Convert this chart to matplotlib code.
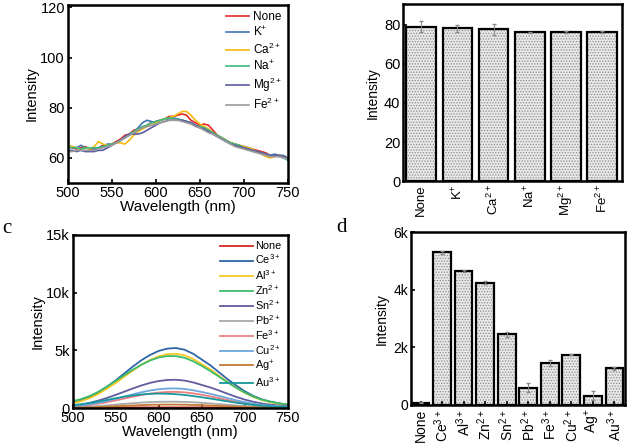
import numpy as np
import matplotlib.pyplot as plt

plt.rcParams['font.family'] = ['Liberation Sans', 'DejaVu Sans']
plt.rcParams['mathtext.fontset'] = 'custom'
plt.rcParams['mathtext.rm'] = 'Liberation Sans'
plt.rcParams['hatch.linewidth'] = 0.6

# panel a: spectra with non-responsive ions
wl_a = np.arange(500, 755, 5)
a_none = [64.5, 64, 63.5, 64, 64.5, 63.5, 63.5, 64, 65, 65, 65.5, 66.5, 67.5, 69, 69.5, 71, 71.5, 72, 73, 74, 74.5, 75, 75.5, 76.5, 76.5, 77, 77.5, 77, 75, 74, 73, 73.5, 73, 71, 69, 68, 67, 66, 65.5, 65, 64.5, 64, 63.5, 63, 62.5, 62, 61, 61, 61, 60.5, 59.5]
a_k = [64, 64.5, 64, 65, 64, 64, 63.5, 64, 64.5, 65.5, 65.5, 66, 67, 68, 69, 70, 72, 74, 75, 74.5, 74, 75, 75.5, 75.5, 76, 75.5, 75, 74.5, 74, 73, 72, 71.5, 70.5, 69.5, 68.5, 67.5, 66.5, 66, 65, 64.5, 64.5, 64, 63, 62.5, 62, 61.5, 61, 61.5, 61, 61, 60]
a_ca = [65, 64.5, 64, 63.5, 64, 63.5, 64.5, 66.5, 65.5, 65, 65.5, 66, 66, 65.5, 67, 69, 70.5, 71.5, 72.5, 73, 74, 75, 75.5, 76, 76.5, 77.5, 78.5, 78.5, 77, 75, 73.5, 72.5, 71.5, 70, 69, 68, 67, 66, 65.5, 65, 64.5, 64, 63.5, 62.5, 61.5, 60.5, 60, 60.5, 61, 60.5, 60]
a_na = [64.5, 64, 64, 63.5, 64, 64, 64, 64, 64.5, 65, 65.5, 66, 67, 68, 69.5, 70.5, 71.5, 72.5, 73, 74, 74.5, 75, 75.5, 76, 75.5, 75.5, 75, 74.5, 74, 73, 72.5, 72, 71, 70, 69, 68, 67, 66, 65.5, 65, 64, 63.5, 63, 62.5, 62, 61.5, 61, 61, 60.5, 60, 59]
a_mg = [63, 63, 62.5, 63, 62.5, 62.5, 62.5, 63, 63, 64, 65, 66, 67, 68.5, 69.5, 69.5, 69.5, 70, 71, 72, 73, 74, 74.5, 75, 75, 75, 75, 74.5, 74, 73, 72, 71.5, 70.5, 69.5, 68.5, 67.5, 66.5, 65.5, 65, 64.5, 64, 63.5, 63, 62.5, 62, 61.5, 61, 61, 61, 60.5, 60]
a_fe = [62.5, 62.5, 63, 63, 63, 63, 63, 63.5, 64, 64.5, 65, 66, 67, 68, 69, 70, 71, 72, 72.5, 73, 73.5, 74, 74.5, 75, 75, 75, 74.5, 74, 73.5, 72.5, 72, 71, 70, 69.5, 68.5, 67.5, 66.5, 65.5, 64.5, 64, 63.5, 63, 62.5, 62, 61.5, 61, 60.5, 60.5, 60.5, 60, 59.5]
labels_a = ['None', 'K$^{+}$', 'Ca$^{2+}$', 'Na$^{+}$', 'Mg$^{2+}$', 'Fe$^{2+}$']
colors_a = ['#e5262b', '#3f74b5', '#f5b80f', '#3dba7a', '#5b5ba2', '#9a9a9a']

# panel b: bar intensities
bars_b = [79, 78, 77.5, 76, 76, 76]
err_b = [3, 2, 3, 0.3, 0.5, 0.5]

# panel c: spectra with responsive ions
wl_c = np.arange(500, 760, 10)
c_none = [60, 60, 58, 58, 57, 57, 56, 56, 55, 55, 55, 55, 55, 54, 54, 54, 53, 53, 53, 52, 52, 52, 51, 51, 50, 50]
c_ce = [450, 650, 950, 1350, 1850, 2400, 3000, 3600, 4150, 4600, 4950, 5150, 5200, 5050, 4700, 4200, 3700, 3100, 2500, 1950, 1450, 1050, 750, 550, 400, 300]
c_al = [420, 600, 870, 1230, 1690, 2180, 2720, 3260, 3760, 4160, 4480, 4660, 4700, 4570, 4250, 3800, 3350, 2800, 2260, 1760, 1310, 950, 680, 500, 360, 270]
c_zn = [600, 780, 1050, 1420, 1880, 2350, 2850, 3330, 3760, 4120, 4380, 4500, 4500, 4350, 4050, 3650, 3200, 2720, 2230, 1760, 1340, 990, 720, 540, 400, 310]
c_sn = [200, 300, 450, 650, 880, 1140, 1420, 1700, 1960, 2180, 2340, 2430, 2450, 2380, 2220, 2000, 1780, 1520, 1240, 970, 730, 540, 390, 290, 210, 160]
c_pb = [50, 80, 120, 170, 230, 300, 360, 420, 470, 510, 540, 550, 550, 530, 500, 450, 400, 340, 280, 220, 170, 120, 90, 70, 50, 40]
c_fe = [120, 180, 270, 380, 510, 660, 820, 980, 1130, 1250, 1340, 1390, 1400, 1360, 1270, 1150, 1010, 860, 700, 550, 420, 310, 220, 160, 120, 90]
c_cu = [150, 220, 320, 460, 620, 800, 1000, 1190, 1370, 1520, 1630, 1690, 1700, 1650, 1540, 1390, 1230, 1050, 860, 670, 510, 370, 270, 200, 150, 110]
c_ag = [30, 45, 65, 90, 120, 155, 190, 225, 255, 280, 295, 300, 300, 290, 270, 245, 215, 185, 150, 120, 90, 70, 50, 40, 30, 20]
c_au = [250, 330, 440, 570, 710, 850, 980, 1090, 1180, 1230, 1250, 1240, 1200, 1130, 1040, 930, 820, 700, 580, 460, 360, 270, 200, 150, 110, 80]
labels_c = ['None', 'Ce$^{3+}$', 'Al$^{3+}$', 'Zn$^{2+}$', 'Sn$^{2+}$', 'Pb$^{2+}$',
            'Fe$^{3+}$', 'Cu$^{2+}$', 'Ag$^{+}$', 'Au$^{3+}$']
colors_c = ['#d42a22', '#2f65a7', '#f5c821', '#3dbb6a', '#605c9e', '#a8a8a8',
            '#ef7f7f', '#6ea6dd', '#c47a35', '#16999a']

# panel d: bar intensities
bars_d = [80, 5300, 4650, 4250, 2450, 600, 1450, 1750, 320, 1270]
err_d = [20, 50, 30, 60, 80, 150, 100, 30, 150, 50]

wl_ticks = [500, 550, 600, 650, 700, 750]

fig = plt.figure(figsize=(6.27, 4.44), dpi=100)
ax_a = fig.add_axes([0.108, 0.588, 0.351, 0.401])
ax_b = fig.add_axes([0.643, 0.592, 0.349, 0.399])
ax_c = fig.add_axes([0.116, 0.081, 0.343, 0.390])
ax_d = fig.add_axes([0.655, 0.088, 0.342, 0.389])

for ax in (ax_a, ax_b, ax_c, ax_d):
    for s in ax.spines.values():
        s.set_linewidth(1.8)
    ax.tick_params(direction='in', labelsize=10.5, width=1.2, length=3, pad=2)


def dotted_bars(ax, x, h, err):
    # grey dot fill first, then black outline on top
    ax.bar(x, h, width=0.82, color='#e8e8e8', edgecolor='#8c8c8c', linewidth=0,
           hatch='......')
    ax.bar(x, h, width=0.82, fill=False, edgecolor='black', linewidth=1.6,
           yerr=err, ecolor='#888888', error_kw=dict(lw=0.8, capsize=1.5))


# a
for y, lab, col in zip([a_none, a_k, a_ca, a_na, a_mg, a_fe], labels_a, colors_a):
    ax_a.plot(wl_a, y, color=col, lw=1.2, label=lab)
ax_a.set_xlim(500, 750)
ax_a.set_xticks(wl_ticks)
ax_a.set_ylim(50, 121)
ax_a.set_yticks([60, 80, 100, 120])
ax_a.set_xlabel('Wavelength (nm)', fontsize=11, labelpad=0)
ax_a.set_ylabel('Intensity', fontsize=10.5, labelpad=1)
ax_a.legend(loc='upper right', frameon=False, fontsize=8.5, handlelength=2.0,
            labelspacing=0.22, handletextpad=0.3, borderaxespad=0.1)

# b
xb = np.arange(len(bars_b))
dotted_bars(ax_b, xb, bars_b, err_b)
ax_b.set_xlim(-0.5, 5.55)
ax_b.set_ylim(0, 90.5)
ax_b.set_yticks([0, 20, 40, 60, 80])
ax_b.set_xticks(xb)
ax_b.set_xticklabels(labels_a, rotation=90)
ax_b.tick_params(axis='x', length=0, labelsize=9.5)
ax_b.set_ylabel('Intensity', fontsize=10, labelpad=3)

# c
for y, lab, col in zip([c_none, c_ce, c_al, c_zn, c_sn, c_pb, c_fe, c_cu, c_ag, c_au],
                       labels_c, colors_c):
    ax_c.plot(wl_c, y, color=col, lw=1.3, label=lab)
ax_c.set_xlim(500, 750)
ax_c.set_xticks(wl_ticks)
ax_c.set_ylim(0, 15000)
ax_c.set_yticks([0, 5000, 10000, 15000])
ax_c.set_yticklabels(['0', '5k', '10k', '15k'])
ax_c.set_xlabel('Wavelength (nm)', fontsize=11, labelpad=0)
ax_c.set_ylabel('Intensity', fontsize=10.5, labelpad=1)
ax_c.legend(loc='upper right', frameon=False, fontsize=7.8, handlelength=3.0,
            labelspacing=0.12, handletextpad=0.2, borderaxespad=0.2)

# d
xd = np.arange(len(bars_d))
dotted_bars(ax_d, xd, bars_d, err_d)
ax_d.set_xlim(-0.46, 9.5)
ax_d.set_ylim(0, 6000)
ax_d.set_yticks([0, 2000, 4000, 6000])
ax_d.set_yticklabels(['0', '2k', '4k', '6k'])
ax_d.set_xticks(xd)
ax_d.set_xticklabels(labels_c, rotation=90)
ax_d.tick_params(axis='x', length=3, labelsize=10, pad=3)
ax_d.tick_params(axis='y', labelsize=10)
ax_d.set_ylabel('Intensity', fontsize=10, labelpad=3)

fig.text(0.003, 0.475, 'c', fontsize=15, family='Liberation Serif')
fig.text(0.537, 0.477, 'd', fontsize=15, family='Liberation Serif')

fig.savefig('out.png', dpi=100)
